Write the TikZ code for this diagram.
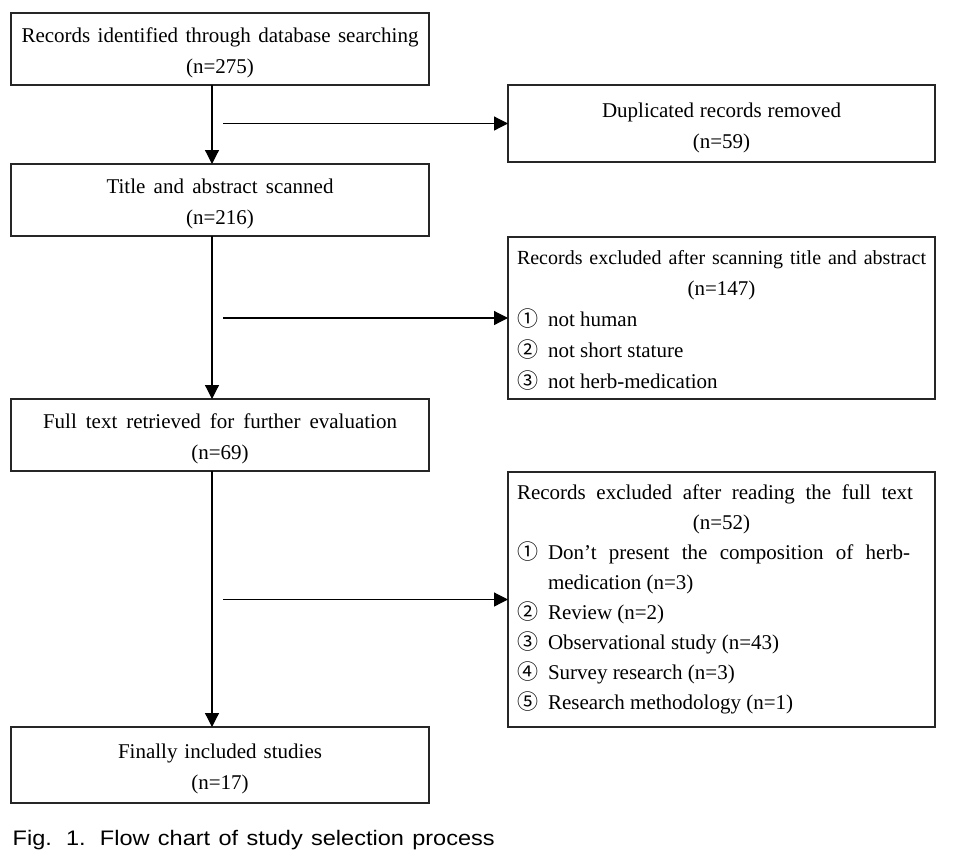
\documentclass[tikz,border=0pt]{standalone}
\usepackage{fontspec}
\setmainfont{Liberation Serif}
\newfontfamily\capfont{Liberation Sans}[FakeStretch=1.12]
\newfontfamily\cjkf{Noto Sans CJK JP}
\usetikzlibrary{arrows.meta}
\newcommand{\cnum}[1]{\makebox[31pt][l]{\cjkf #1}}
\newcommand{\tstrut}[1]{\rule{0pt}{#1}}
\begin{document}
\begin{tikzpicture}[x=1pt,y=-1pt,
  box/.style={draw=black!85, line width=1.2pt, rectangle, inner sep=0pt, outer sep=0pt, align=center, font=\fontsize{21}{31}\selectfont},
  lbox/.style={box, minimum width=418pt, minimum height=72pt},
  rbox/.style={box, minimum width=427pt},
  arr/.style={line width=1.2pt, -{Triangle[length=14pt,width=14pt]}}
]
\path[use as bounding box] (0,0) rectangle (955,855);
\node[lbox] (b1) at (220,49) {\tstrut{23pt}\makebox[397pt][s]{Records identified through database searching}\\(n=275)};
\node[rbox, minimum height=77pt] (b2) at (721.5,123.5) {\tstrut{23pt}\makebox[239pt][s]{Duplicated records removed}\\(n=59)};
\node[lbox] (b3) at (220,200) {\tstrut{23pt}\makebox[227pt][s]{Title and abstract scanned}\\(n=216)};
\node[rbox, minimum height=162pt] (b4) at (721.5,318) {\tstrut{18pt}\makebox[409pt][s]{\fontsize{20}{31}\selectfont Records excluded after scanning title and abstract}\\
(n=147)\\
\makebox[409pt][l]{\cnum{①}not human}\\
\makebox[409pt][l]{\cnum{②}not short stature}\\
\makebox[409pt][l]{\cnum{③}not herb-medication}};
\node[lbox] (b5) at (220,435) {\tstrut{23pt}\makebox[354pt][s]{Full text retrieved for further evaluation}\\(n=69)};
\node[rbox, minimum height=255pt, font=\fontsize{21}{30}\selectfont] (b6) at (721.5,599.5) {\makebox[396pt][s]{Records excluded after reading the full text}\hspace*{13pt}\\
(n=52)\\
\makebox[409pt][l]{\cnum{①}\makebox[362pt][s]{Don’t present the composition of herb-}}\\
\makebox[409pt][l]{\hspace*{31pt}medication (n=3)}\\
\makebox[409pt][l]{\cnum{②}Review (n=2)}\\
\makebox[409pt][l]{\cnum{③}Observational study (n=43)}\\
\makebox[409pt][l]{\cnum{④}Survey research (n=3)}\\
\makebox[409pt][l]{\cnum{⑤}Research methodology (n=1)}};
\node[lbox, minimum height=76pt] (b7) at (220,765) {\tstrut{23pt}\makebox[204pt][s]{Finally included studies}\\(n=17)};
\node[anchor=base west, inner sep=0pt, font=\capfont\fontsize{21}{25}\selectfont] (cap) at (12.5,845) {\makebox[482pt][s]{Fig. 1. Flow chart of study selection process}};
\coordinate (vx) at (212,0);
\coordinate (hx) at (223,0);
\draw[arr] (b1.south -| vx) -- (b3.north -| vx);
\draw[arr] (b3.south -| vx) -- (b5.north -| vx);
\draw[arr] (b5.south -| vx) -- (b7.north -| vx);
\draw[arr] (b2.west -| hx) -- (b2.west);
\draw[arr] (b4.west -| hx) -- (b4.west);
\draw[arr] (b6.west -| hx) -- (b6.west);
\end{tikzpicture}
\end{document}
